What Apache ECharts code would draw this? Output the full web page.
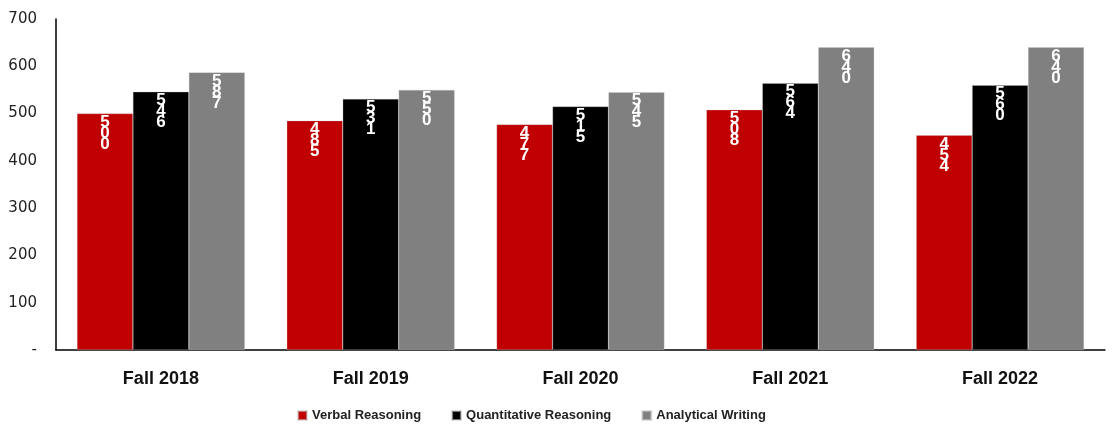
<!DOCTYPE html>
<html>
<head>
<meta charset="utf-8">
<script src="https://cdn.jsdelivr.net/npm/echarts@6/dist/echarts.min.js"></script>
<style>
  html, body { margin: 0; padding: 0; background: #fff; }
  #chart { width: 1113px; height: 428px; }
</style>
</head>
<body>
<div id="chart"></div>
<script>
const categories = ['Fall 2018', 'Fall 2019', 'Fall 2020', 'Fall 2021', 'Fall 2022']
const verbal = [500, 485, 477, 508, 454]
const quantitative = [546, 531, 515, 564, 560]
const analytical = [587, 550, 545, 640, 640]
const yTicks = [0, 100, 200, 300, 400, 500, 600, 700]

const chart = echarts.init(document.getElementById('chart'))

// digits stacked one per line, like the original
const stackedLabel = {
  show: true,
  position: 'insideTop',
  distance: 3,
  color: '#fff',
  fontFamily: 'Liberation Sans',
  fontWeight: 'bold',
  fontSize: 17,
  lineHeight: 11,
  formatter: p => String(p.value).split('').join('\n')
}

const makeSeries = (name, data, color) => ({
  name,
  type: 'bar',
  data,
  barGap: '0%',
  barCategoryGap: '20%',
  itemStyle: { color, borderColor: 'rgba(200,200,200,0.6)', borderWidth: 0.5 },
  label: stackedLabel
})

chart.setOption({
  animation: false,
  grid: { left: 56, right: 8, top: 19, bottom: 78 },
  legend: {
    bottom: 1,
    left: 292,
    itemWidth: 9,
    itemHeight: 9,
    itemGap: 30,
    icon: 'rect',
    textStyle: { fontFamily: 'Liberation Sans', fontWeight: 'bold', fontSize: 13, color: '#222' },
    data: ['Verbal Reasoning', 'Quantitative Reasoning', 'Analytical Writing']
  },
  xAxis: {
    type: 'category',
    data: categories,
    axisLine: { lineStyle: { color: '#000', width: 1.5 } },
    axisTick: { show: false },
    axisLabel: { margin: 20, color: '#111', fontFamily: 'Liberation Sans', fontWeight: 'bold', fontSize: 18 }
  },
  yAxis: {
    type: 'value',
    min: yTicks[0],
    max: yTicks[yTicks.length - 1],
    interval: 100,
    axisLine: { show: true, lineStyle: { color: '#000', width: 1.5 } },
    axisTick: { show: false },
    splitLine: { show: false },
    axisLabel: {
      margin: 19,
      color: '#222',
      fontFamily: 'DejaVu Sans',
      fontSize: 15,
      formatter: v => (v === 0 ? '-' : String(v))
    }
  },
  series: [
    makeSeries('Verbal Reasoning', verbal, '#C00000'),
    makeSeries('Quantitative Reasoning', quantitative, '#000000'),
    makeSeries('Analytical Writing', analytical, '#808080')
  ]
})
</script>
</body>
</html>
